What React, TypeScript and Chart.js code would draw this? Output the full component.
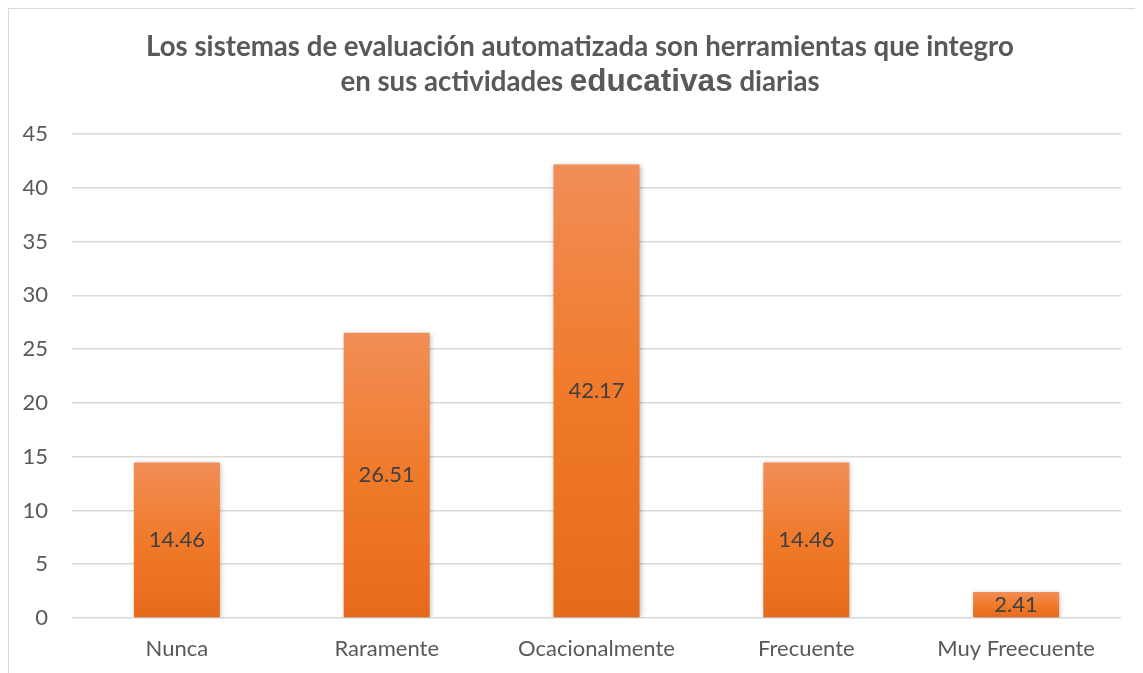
import React, { useEffect, useRef } from "react";
import { Chart, registerables } from "chart.js";

Chart.register(...registerables);

const categories = ["Nunca", "Raramente", "Ocacionalmente", "Frecuente", "Muy Freecuente"];
const values = [14.46, 26.51, 42.17, 14.46, 2.41];
const yMin = 0;
const yMax = 45;
const yStep = 5;
const titleLine1 = "Los sistemas de evaluación automatizada son herramientas que integro";
const titleLine2Parts = [
  { text: "en sus actividades ", big: false },
  { text: "educativas", big: true },
  { text: " diarias", big: false },
];

const FONT = "Lato, 'Open Sans', sans-serif";
const TEXT_GRAY = "#595959";
const LABEL_GRAY = "#404040";

const titlePlugin = {
  id: "customTitle",
  afterDraw(chart: any) {
    const ctx = chart.ctx;
    ctx.save();
    ctx.fillStyle = TEXT_GRAY;
    ctx.textBaseline = "alphabetic";
    ctx.textAlign = "left";
    const cx = chart.width / 2 + 8;
    ctx.font = `bold 24px ${FONT}`;
    const w1raw = ctx.measureText(titleLine1).width;
    const size1 = 24 * (868 / w1raw);
    ctx.font = `bold ${size1}px ${FONT}`;
    const w1 = ctx.measureText(titleLine1).width;
    ctx.fillText(titleLine1, cx - w1 / 2, 47);
    const fonts = titleLine2Parts.map((p) =>
      p.big ? `bold 30px 'Liberation Sans', Arial, sans-serif` : `bold ${size1}px ${FONT}`
    );
    ctx.font = fonts[1];
    const bw = ctx.measureText(titleLine2Parts[1].text).width;
    fonts[1] = `bold ${30 * (163 / bw)}px 'Liberation Sans', Arial, sans-serif`;
    let total = 0;
    const widths = titleLine2Parts.map((p, i) => {
      ctx.font = fonts[i];
      const w = ctx.measureText(p.text).width;
      total += w;
      return w;
    });
    let x = cx - total / 2;
    titleLine2Parts.forEach((p, i) => {
      ctx.font = fonts[i];
      ctx.fillText(p.text, x, 82);
      x += widths[i];
    });
    ctx.restore();
  },
};

const shadowPlugin = {
  id: "barShadow",
  beforeDatasetsDraw(chart: any) {
    const ctx = chart.ctx;
    ctx.save();
    ctx.shadowColor = "rgba(0,0,0,0.28)";
    ctx.shadowBlur = 5;
    ctx.shadowOffsetX = 1;
    ctx.shadowOffsetY = 1;
  },
  afterDatasetsDraw(chart: any) {
    chart.ctx.restore();
  },
};

const dataLabelPlugin = {
  id: "dataLabels",
  afterDraw(chart: any) {
    const ctx = chart.ctx;
    ctx.save();
    ctx.font = `22px ${FONT}`;
    ctx.fillStyle = LABEL_GRAY;
    ctx.textAlign = "center";
    ctx.textBaseline = "middle";
    const meta = chart.getDatasetMeta(0);
    meta.data.forEach((bar: any, i: number) => {
      const v = chart.data.datasets[0].data[i];
      ctx.fillText(v.toFixed(2), bar.x, (bar.y + bar.base) / 2);
    });
    ctx.restore();
  },
};

export default function App() {
  const canvasRef = useRef<HTMLCanvasElement | null>(null);

  useEffect(() => {
    document.documentElement.style.overflow = "hidden";
    document.body.style.overflow = "hidden";
    if (!canvasRef.current) return;
    const chart = new Chart(canvasRef.current, {
      type: "bar",
      data: {
        labels: categories,
        datasets: [
          {
            data: values,
            backgroundColor: (context: any) => {
              const c = context.chart;
              const ys = c.scales && c.scales.y;
              if (!ys || context.dataIndex === undefined) return "#ED7D31";
              const v = context.dataset.data[context.dataIndex];
              const top = ys.getPixelForValue(v);
              const bottom = ys.getPixelForValue(0);
              if (!isFinite(top) || !isFinite(bottom) || top === bottom) return "#ED7D31";
              const g = c.ctx.createLinearGradient(0, top, 0, bottom);
              g.addColorStop(0, "#F18E57");
              g.addColorStop(0.5, "#F07A2A");
              g.addColorStop(1, "#E56B1B");
              return g;
            },
            borderWidth: 0,
            barPercentage: 0.82,
            categoryPercentage: 0.5,
          },
        ],
      },
      options: {
        animation: false,
        responsive: true,
        maintainAspectRatio: false,
        layout: { padding: { top: 125, right: 14, left: 0, bottom: 0 } },
        plugins: {
          legend: { display: false },
          title: { display: false },
          tooltip: { enabled: false },
        },
        scales: {
          x: {
            grid: { display: false, drawTicks: false },
            border: { display: false },
            ticks: {
              color: TEXT_GRAY,
              font: { family: FONT, size: 22 },
              padding: 18,
              maxRotation: 0,
              autoSkip: false,
            },
            afterFit: (scale: any) => {
              scale.height = 55;
            },
          },
          y: {
            min: yMin,
            max: yMax,
            grid: { color: "#d9d9d9", lineWidth: 1.5, drawTicks: false },
            border: { display: false },
            ticks: {
              stepSize: yStep,
              color: TEXT_GRAY,
              font: { family: FONT, size: 22 },
              padding: 24,
            },
            afterFit: (scale: any) => {
              scale.width = 63;
            },
          },
        },
      },
      plugins: [shadowPlugin, dataLabelPlugin, titlePlugin],
    });
    return () => chart.destroy();
  }, []);

  return (
    <div
      style={{
        width: 1127,
        height: 665,
        borderTop: "1px solid #d9d9d9",
        borderLeft: "1px solid #d9d9d9",
        boxSizing: "border-box",
        position: "relative",
        background: "#fff",
      }}
    >
      <canvas ref={canvasRef} />
    </div>
  );
}
